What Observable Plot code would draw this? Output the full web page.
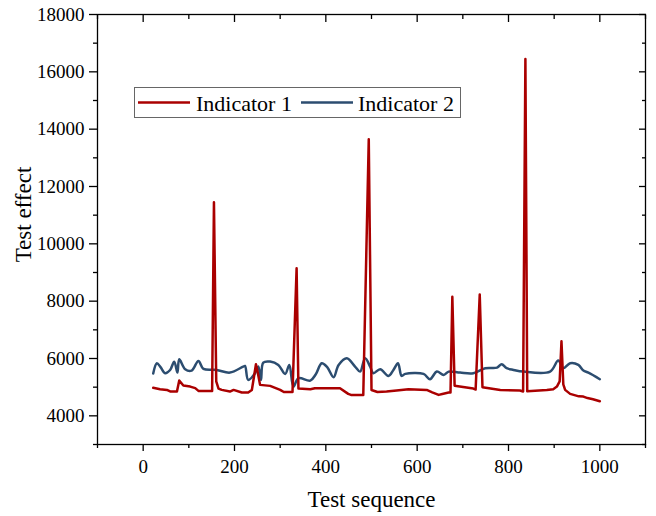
<!DOCTYPE html>
<html><head><meta charset="utf-8">
<script src="https://cdn.jsdelivr.net/npm/d3@7"></script>
<script src="https://cdn.jsdelivr.net/npm/@observablehq/plot@0.6"></script>
<style>
body{margin:0;background:#fff;}
#wrap{position:relative;width:656px;height:516px;font-family:"Liberation Serif","Times New Roman",serif;}
#wrap svg text{font-family:"Liberation Serif","Times New Roman",serif;}
#legend{position:absolute;left:134px;top:87px;width:327px;height:31px;border:1.3px solid #666;background:#fff;box-sizing:border-box;}
#legend svg{position:absolute;left:0;top:0;overflow:visible;}
</style></head><body><div id="wrap"></div>
<script>
const seriesNames = ["Indicator 1", "Indicator 2"];
const seriesColors = ["#aa0000", "#2c4d70"];

const seq1 = [22,37,52,59,74,79,88,103,114,121,151,155,160,165,172,190,198,216,230,238,247,251,256,278,300,308,327,336,340,366,376,431,449,455,482,494,500,513,533,555,581,621,633,647,655,669,673,677,682,723,728,737,743,782,825,832,837,841,884,898,906,912,916,920,924,935,954,964,973,985,1000];
const val1 = [4980,4930,4905,4850,4850,5230,5060,5020,4965,4870,4870,11450,5200,4950,4905,4846,4905,4812,4812,4900,5800,5500,5080,5045,4905,4830,4830,9150,4950,4928,4965,4964,4766,4730,4730,13650,4900,4830,4846,4881,4928,4905,4820,4731,4760,4812,4812,8150,5050,4950,4920,8230,5000,4905,4881,4850,16450,4860,4900,4930,5020,5200,6600,5100,4905,4766,4680,4672,4620,4580,4510];

const seq2 = [22,30,38,48,59,68,75,79,92,106,121,132,161,190,219,223,230,245,252,258,263,278,296,311,320,329,340,366,378,391,403,417,428,446,464,475,486,497,504,519,537,548,558,566,574,614,628,643,658,669,694,723,749,775,785,796,811,833,891,909,920,935,953,964,975,1000];
const val2 = [5480,5835,5700,5487,5600,5890,5508,5975,5627,5578,5916,5637,5602,5508,5717,5740,5254,5487,5717,5254,5857,5892,5776,5463,5776,5021,5313,5230,5450,5835,5700,5348,5776,6010,5717,5543,6010,5717,5487,5627,5393,5602,5835,5393,5463,5463,5278,5543,5428,5543,5508,5487,5662,5683,5800,5662,5602,5543,5543,5926,5662,5835,5776,5578,5508,5278];

const xTicks = [0,200,400,600,800,1000];
const xMinor = [-100,100,300,500,700,900,1100];
const yTicks = [4000,6000,8000,10000,12000,14000,16000,18000];
const yMinor = [3000,5000,7000,9000,11000,13000,15000,17000];
const xTitle = "Test sequence";
const yTitle = "Test effect";

const serif = '"Liberation Serif","Times New Roman",serif';
const d1 = seq1.map((x,i)=>({x, y: val1[i]}));
const d2 = seq2.map((x,i)=>({x, y: val2[i]}));
const blank = () => "";
const plain = d => String(d);

const plot = Plot.plot({
  width: 656, height: 516,
  marginLeft: 97, marginRight: 11, marginTop: 14, marginBottom: 72,
  style: {fontFamily: serif, fontSize: "19px", color: "black", background: "white", overflow: "visible"},
  x: {domain: [-100, 1100]},
  y: {domain: [3000, 18000]},
  marks: [
    Plot.line(d2, {x: "x", y: "y", stroke: seriesColors[1], strokeWidth: 2.5, curve: "catmull-rom"}),
    Plot.line(d1, {x: "x", y: "y", stroke: seriesColors[0], strokeWidth: 2.5}),
    Plot.frame({stroke: "black", strokeWidth: 1.3}),
    Plot.axisX(xTicks, {tickSize: 7, tickPadding: 8, label: null, tickFormat: plain, fontSize: 19, fontFamily: serif, strokeWidth: 1.3}),
    Plot.axisX(xMinor, {tickSize: 4, tickFormat: blank, label: null, strokeWidth: 1.3}),
    Plot.axisX(xTicks, {anchor: "top", tickSize: 7, dy: 7, tickFormat: blank, label: null, strokeWidth: 1.3}),
    Plot.axisX(xMinor, {anchor: "top", tickSize: 4, dy: 4, tickFormat: blank, label: null, strokeWidth: 1.3}),
    Plot.axisY(yTicks, {tickSize: 8, tickPadding: 5, label: null, tickFormat: plain, fontSize: 19, fontFamily: serif, strokeWidth: 1.3}),
    Plot.axisY(yMinor, {tickSize: 4, tickFormat: blank, label: null, strokeWidth: 1.3}),
    Plot.axisY(yTicks, {anchor: "right", tickSize: 7, dx: -7, tickFormat: blank, label: null, strokeWidth: 1.3}),
    Plot.axisY(yMinor, {anchor: "right", tickSize: 4, dx: -4, tickFormat: blank, label: null, strokeWidth: 1.3}),
    Plot.text([xTitle], {text: d => d, frameAnchor: "bottom", lineAnchor: "middle", textAnchor: "middle", dy: 55, fontSize: 23, fontFamily: serif}),
    Plot.text([yTitle], {text: d => d, frameAnchor: "left", lineAnchor: "middle", textAnchor: "middle", dx: -74, dy: -15, rotate: -90, fontSize: 23, fontFamily: serif})
  ]
});
const wrap = document.getElementById("wrap");
wrap.appendChild(plot);

const lg = document.createElement("div");
lg.id = "legend";
const ns = "http://www.w3.org/2000/svg";
const svg = document.createElementNS(ns, "svg");
svg.setAttribute("width", 327); svg.setAttribute("height", 31);
const items = [{lx: 3, tx: 61}, {lx: 166, tx: 223}];
items.forEach((it, i) => {
  const ln = document.createElementNS(ns, "line");
  ln.setAttribute("x1", it.lx); ln.setAttribute("x2", it.lx + 52);
  ln.setAttribute("y1", 14.5); ln.setAttribute("y2", 14.5);
  ln.setAttribute("stroke", seriesColors[i]); ln.setAttribute("stroke-width", 2.5);
  svg.appendChild(ln);
  const tx = document.createElementNS(ns, "text");
  tx.setAttribute("x", it.tx); tx.setAttribute("y", 23);
  tx.setAttribute("font-size", 22);
  tx.setAttribute("font-family", serif);
  tx.textContent = seriesNames[i];
  svg.appendChild(tx);
});
lg.appendChild(svg);
wrap.appendChild(lg);
</script></body></html>
